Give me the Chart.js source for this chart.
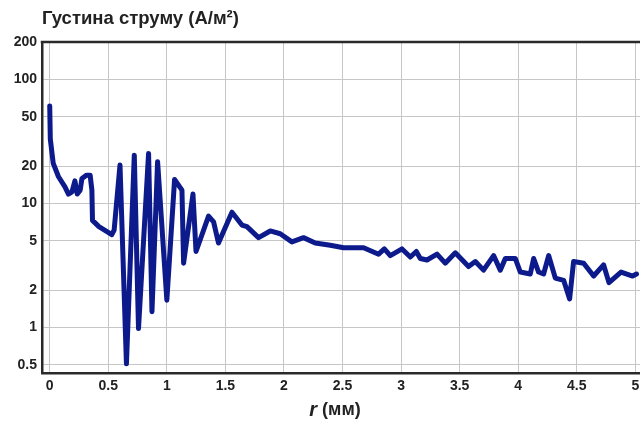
<!DOCTYPE html>
<html>
<head>
<meta charset="utf-8">
<script src="https://cdn.jsdelivr.net/npm/chart.js@4.4.1/dist/chart.umd.min.js"></script>
<style>
  html, body { margin: 0; padding: 0; background: #fff; overflow: hidden; }
  canvas { display: block; }
</style>
</head>
<body>
<canvas id="myChart" width="640" height="423"></canvas>
<script>
// radius (mm) and current density (A/m2) along the curve
var radius = [
  0.0, 0.005, 0.03, 0.075, 0.13, 0.16, 0.19, 0.215, 0.235, 0.26,
  0.275, 0.315, 0.345, 0.36, 0.365, 0.42, 0.53, 0.55, 0.60, 0.655,
  0.722, 0.758, 0.844, 0.873, 0.921, 1.0, 1.066, 1.129, 1.143, 1.223,
  1.249, 1.356, 1.399, 1.441, 1.556, 1.641, 1.684, 1.783, 1.883, 1.968,
  2.068, 2.167, 2.267, 2.395, 2.509, 2.68, 2.808, 2.857, 2.908, 3.008,
  3.079, 3.13, 3.164, 3.221, 3.307, 3.377, 3.463, 3.576, 3.634, 3.704,
  3.79, 3.847, 3.89, 3.975, 4.018, 4.103, 4.132, 4.174, 4.217, 4.26,
  4.317, 4.388, 4.439, 4.473, 4.559, 4.644, 4.729, 4.775, 4.878, 4.977,
  5.01
];
var density = [
  61, 33, 21, 16.4, 13.6, 11.9, 12.4, 15.2, 11.9, 12.8,
  15.9, 16.9, 16.9, 12.8, 7.3, 6.5, 5.6, 6.1, 20.4, 0.51,
  24.5, 0.98, 25.3, 1.34, 21.7, 1.66, 15.6, 12.8, 3.3, 11.9,
  4.1, 7.9, 7.1, 4.8, 8.5, 6.7, 6.5, 5.3, 6.0, 5.7,
  4.9, 5.3, 4.8, 4.6, 4.4, 4.4, 3.9, 4.3, 3.8, 4.3,
  3.7, 4.1, 3.6, 3.5, 3.9, 3.3, 4.0, 3.1, 3.4, 2.9,
  3.8, 2.9, 3.6, 3.6, 2.8, 2.7, 3.6, 2.8, 2.7, 3.8,
  2.5, 2.4, 1.7, 3.4, 3.3, 2.6, 3.2, 2.3, 2.8, 2.6,
  2.7
];

var xTicks = [0, 0.5, 1, 1.5, 2, 2.5, 3, 3.5, 4, 4.5, 5];
var yTicks = [0.5, 1, 2, 5, 10, 20, 50, 100, 200];

var chart = document.getElementById('myChart');

Chart.defaults.font.family = "'Liberation Sans', Arial, sans-serif";
Chart.defaults.color = '#222';

var frameColor = '#2a2a2a';

// top edge of the frame and the x axis caption (italic r)
const frameAndCaption = {
  id: 'frameAndCaption',
  afterDraw(c) {
    let ctx = c.ctx;
    let area = c.chartArea;
    ctx.save();
    ctx.strokeStyle = frameColor;
    ctx.lineWidth = 2.5;
    ctx.beginPath();
    ctx.moveTo(area.left - 1.25, area.top);
    ctx.lineTo(area.right, area.top);
    ctx.stroke();

    let partA = 'r';
    let partB = ' (мм)';
    let fontA = "italic bold 20px 'Liberation Sans', Arial, sans-serif";
    let fontB = "bold 18px 'Liberation Sans', Arial, sans-serif";
    ctx.fillStyle = '#222';
    ctx.textBaseline = 'middle';
    ctx.font = fontA;
    let wA = ctx.measureText(partA).width;
    ctx.font = fontB;
    let wB = ctx.measureText(partB).width;
    let cx = 335;
    let x0 = cx - (wA + wB) / 2;
    let y = 410;
    ctx.font = fontA;
    ctx.fillText(partA, x0, y);
    ctx.font = fontB;
    ctx.fillText(partB, x0 + wA, y);
    ctx.restore();
  }
};

const config = {
  type: 'line',
  data: {
    datasets: [{
      label: 'Густина струму',
      data: radius.map(function (r, i) { return { x: r, y: density[i] }; }),
      borderColor: '#0d1a8c',
      backgroundColor: '#0d1a8c',
      borderWidth: 5,
      pointRadius: 0,
      tension: 0,
      fill: false,
      borderJoinStyle: 'round',
      borderCapStyle: 'round'
    }]
  },
  options: {
    responsive: false,
    animation: false,
    layout: {
      autoPadding: false,
      padding: { left: 10, right: 0, top: 0, bottom: 0 }
    },
    plugins: {
      legend: { display: false },
      tooltip: { enabled: false },
      title: {
        display: true,
        fullSize: false,
        text: 'Густина струму (А/м²)',
        align: 'start',
        color: '#222',
        font: { size: 18.5, weight: 'bold' },
        padding: { top: 7.5, bottom: 12.3 }
      }
    },
    scales: {
      x: {
        type: 'linear',
        min: -0.066,
        max: 5.04,
        afterBuildTicks: function (scale) {
          scale.ticks = xTicks.map(function (v) { return { value: v }; });
        },
        afterFit: function (scale) {
          scale.height = 50;
          // let the plot run to the right edge of the canvas
          scale.paddingLeft = 0;
          scale.paddingRight = 0;
        },
        ticks: {
          autoSkip: false,
          maxRotation: 0,
          padding: 5,
          color: '#222',
          font: { size: 14, weight: 'bold' },
          callback: function (v) { return String(v); }
        },
        grid: { color: '#c6c6c6', lineWidth: 1, drawTicks: false },
        border: { display: true, color: frameColor, width: 2.5 }
      },
      y: {
        type: 'logarithmic',
        min: 0.43,
        max: 200,
        afterBuildTicks: function (scale) {
          scale.ticks = yTicks.map(function (v) { return { value: v }; });
        },
        afterFit: function (scale) {
          scale.width = 32;
          scale.paddingTop = 0;
          scale.paddingBottom = 0;
        },
        ticks: {
          autoSkip: false,
          padding: 5,
          color: '#222',
          font: { size: 14, weight: 'bold' },
          callback: function (v) { return String(v); }
        },
        grid: { color: '#c6c6c6', lineWidth: 1, drawTicks: false },
        border: { display: true, color: frameColor, width: 2.5 }
      }
    }
  },
  plugins: [frameAndCaption]
};

var myChart = new Chart(chart, config);
</script>
</body>
</html>
